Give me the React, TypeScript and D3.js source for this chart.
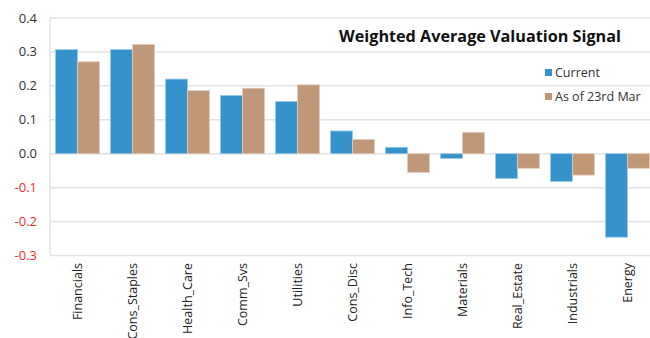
import React from "react";
import * as d3 from "d3";

const categories = ["Financials", "Cons_Staples", "Health_Care", "Comm_Svs", "Utilities", "Cons_Disc", "Info_Tech", "Materials", "Real_Estate", "Industrials", "Energy"];
const currentValues = [0.307, 0.307, 0.22, 0.172, 0.154, 0.067, 0.019, -0.014, -0.073, -0.082, -0.246];
const marchValues = [0.271, 0.322, 0.186, 0.193, 0.203, 0.042, -0.055, 0.063, -0.043, -0.063, -0.043];
const yTicks = [0.4, 0.3, 0.2, 0.1, 0.0, -0.1, -0.2, -0.3];
const seriesNames = ["Current", "As of 23rd Mar"];
const colors = ["#3592CB", "#C09777"];
const strokes = ["#9CCBEA", "#E3CDBB"];

export default function App() {
  const W = 650, H = 338;
  const x = d3.scaleBand<string>().domain(categories).range([50, 655]).paddingInner(0.2).paddingOuter(0.1);
  const inner = d3.scaleBand<number>().domain([0, 1]).range([0, x.bandwidth()]);
  const y = d3.scaleLinear().domain([-0.3, 0.4]).range([255.5, 18]);
  const font = "'Open Sans', 'Noto Sans', sans-serif";
  const series = [currentValues, marchValues];
  return (
    <svg width={W} height={H} style={{ position: "absolute", left: 0, top: 0, background: "#fff" }}>
      {yTicks.map((t) => (
        <g key={t}>
          <line x1={50} x2={W} y1={y(t)} y2={y(t)} stroke="#e3e3e3" strokeWidth={1.5} />
          <text x={37} y={y(t)} dy="0.35em" textAnchor="end" fontSize={13} fontFamily={font} fill={t < 0 ? "#ff2a2a" : "#333"}>
            {t.toFixed(1)}
          </text>
        </g>
      ))}
      <line x1={50} x2={50} y1={y(0.4)} y2={y(-0.3)} stroke="#e3e3e3" strokeWidth={1.5} />
      {categories.map((c, i) => (
        <g key={c}>
          {series.map((vals, s) => {
            const v = vals[i];
            const bx = (x(c) as number) + (inner(s) as number);
            return (
              <rect key={s} x={bx} y={y(Math.max(0, v))} width={inner.bandwidth()} height={Math.abs(y(v) - y(0))}
                fill={colors[s]} stroke={strokes[s]} strokeWidth={0.8} />
            );
          })}
          <text transform={`translate(${(x(c) as number) + x.bandwidth() / 2},263) rotate(-90)`} dy="0.35em" textAnchor="end"
            fontSize={12.5} fontFamily={font} fill="#222">{c}</text>
        </g>
      ))}
      <text x={480} y={42} textAnchor="middle" fontSize={16.2} fontWeight="bold" fontFamily={font} fill="#111">Weighted Average Valuation Signal</text>
      {seriesNames.map((n, i) => (
        <g key={n}>
          <rect x={545} y={69 + i * 24} width={7} height={7} fill={colors[i]} />
          <text x={555} y={73 + i * 24} dy="0.35em" fontSize={12.5} fontFamily={font} fill="#333">{n}</text>
        </g>
      ))}
    </svg>
  );
}
